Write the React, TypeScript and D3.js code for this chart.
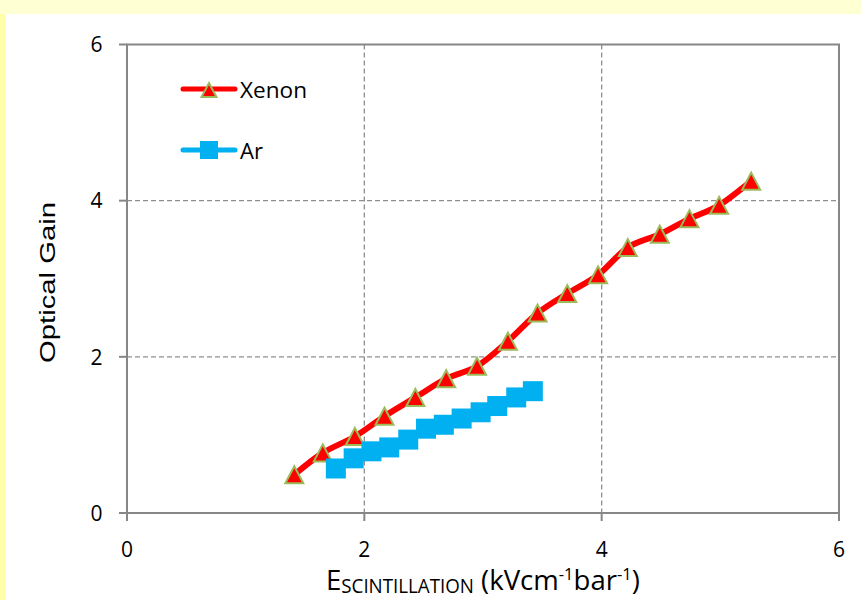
import React, { useLayoutEffect, useRef, useState } from "react";
import * as d3 from "d3";

const xTicks = [0, 2, 4, 6];
const yTicks = [0, 2, 4, 6];
const gridX = [2, 4];
const gridY = [2, 4];

const xenonX = [1.41, 1.65, 1.92, 2.17, 2.43, 2.69, 2.95, 3.21, 3.46, 3.71, 3.97, 4.22, 4.49, 4.74, 4.99, 5.26];
const xenonY = [0.49, 0.77, 0.98, 1.24, 1.48, 1.72, 1.88, 2.2, 2.56, 2.81, 3.05, 3.4, 3.57, 3.77, 3.94, 4.25];
const arX = [1.76, 1.91, 2.06, 2.21, 2.37, 2.52, 2.67, 2.82, 2.98, 3.12, 3.28, 3.42];
const arY = [0.57, 0.7, 0.79, 0.84, 0.94, 1.08, 1.13, 1.21, 1.29, 1.37, 1.48, 1.56];

const seriesNames = ["Xenon", "Ar"];

const W = 861;
const H = 600;
const left = 127;
const right = 839;
const top = 44.5;
const bottom = 513;

const RED = "#FF0000";
const GREEN = "#9BBB59";
const BLUE = "#00B0F0";
const AXIS = "#878787";
const GRID = "#8f8f8f";
const FONT = "'Open Sans', Lato, sans-serif";

function triPath(cx: number, cy: number, w: number, h: number) {
  return `M${cx},${cy - h / 2}L${cx + w / 2},${cy + h / 2}L${cx - w / 2},${cy + h / 2}Z`;
}

export default function App() {
  const x = d3.scaleLinear().domain([0, 6]).range([left, right]);
  const y = d3.scaleLinear().domain([0, 6]).range([bottom, top]);

  const xenon = xenonX.map((v, i) => [v, xenonY[i]] as [number, number]);
  const ar = arX.map((v, i) => [v, arY[i]] as [number, number]);

  const line = d3
    .line<[number, number]>()
    .x((d) => x(d[0]))
    .y((d) => y(d[1]))
    .curve(d3.curveCatmullRom.alpha(0));

  const legendY = [89, 150];

  const titleRef = useRef<SVGTextElement | null>(null);
  const [sx, setSx] = useState(1);
  useLayoutEffect(() => {
    if (titleRef.current) {
      const w = titleRef.current.getBBox().width;
      if (w > 0) setSx(314 / w);
    }
  }, []);

  return (
    <svg
      width={W}
      height={H}
      style={{ position: "absolute", left: 0, top: 0, display: "block" }}
    >
      <rect x={0} y={0} width={W} height={H} fill="#FFFFD4" />
      <rect x={0} y={14} width={6} height={H - 14} fill="#FFFFA8" />
      <rect x={6} y={14} width={W - 6} height={H - 14} fill="#FFFFFF" />

      {/* grid */}
      {gridX.map((t) => (
        <line key={"gx" + t} x1={x(t)} x2={x(t)} y1={top} y2={bottom} stroke={GRID} strokeWidth={1.3} strokeDasharray="5,3" />
      ))}
      {gridY.map((t) => (
        <line key={"gy" + t} x1={left} x2={right} y1={y(t)} y2={y(t)} stroke={GRID} strokeWidth={1.3} strokeDasharray="5,3" />
      ))}

      {/* plot box */}
      <rect x={left} y={top} width={right - left} height={bottom - top} fill="none" stroke={AXIS} strokeWidth={2} />

      {/* ticks */}
      {xTicks.map((t) => (
        <g key={"xt" + t}>
          <line x1={x(t)} x2={x(t)} y1={bottom} y2={bottom + 8} stroke={AXIS} strokeWidth={2} />
          <text x={x(t)} y={556.5} textAnchor="middle" fontFamily={FONT} fontSize={21} fill="#000">
            {t}
          </text>
        </g>
      ))}
      {yTicks.map((t) => (
        <g key={"yt" + t}>
          <line x1={left - 8} x2={left} y1={y(t)} y2={y(t)} stroke={AXIS} strokeWidth={2} />
          <text x={102.5} y={y(t) + 7.8} textAnchor="end" fontFamily={FONT} fontSize={21} fill="#000">
            {t}
          </text>
        </g>
      ))}

      {/* series */}
      <path d={line(xenon) || ""} fill="none" stroke={RED} strokeWidth={6} strokeLinejoin="round" strokeLinecap="round" />
      {xenon.map((d, i) => (
        <path key={"xm" + i} d={triPath(x(d[0]), y(d[1]), 18, 17)} fill={RED} stroke={GREEN} strokeWidth={2} />
      ))}
      <path d={line(ar) || ""} fill="none" stroke={BLUE} strokeWidth={5} strokeLinejoin="round" />
      {ar.map((d, i) => (
        <rect key={"am" + i} x={x(d[0]) - 10} y={y(d[1]) - 10} width={20} height={20} fill={BLUE} />
      ))}

      {/* legend */}
      <line x1={183} x2={235} y1={legendY[0]} y2={legendY[0]} stroke={RED} strokeWidth={5} strokeLinecap="round" />
      <path d={triPath(209, legendY[0] + 1, 15, 14)} fill={RED} stroke={GREEN} strokeWidth={2} />
      <text x={240} y={legendY[0] + 8.5} fontFamily={FONT} fontSize={22} textLength={67} lengthAdjust="spacingAndGlyphs" fill="#000">
        {seriesNames[0]}
      </text>
      <line x1={183} x2={235} y1={legendY[1]} y2={legendY[1]} stroke={BLUE} strokeWidth={5} strokeLinecap="round" />
      <rect x={200} y={legendY[1] - 9} width={18} height={18} fill={BLUE} />
      <text x={240} y={legendY[1] + 8.5} fontFamily={FONT} fontSize={22} textLength={23} lengthAdjust="spacingAndGlyphs" fill="#000">
        {seriesNames[1]}
      </text>

      {/* y title */}
      <text
        transform={`translate(55, 282.5) rotate(-90)`}
        textAnchor="middle"
        fontFamily="'Liberation Sans', Arial, sans-serif"
        fontSize={22}
        textLength={161}
        lengthAdjust="spacingAndGlyphs"
        fill="#000"
      >
        Optical Gain
      </text>

      {/* x title */}
      <g transform={`translate(326, 590) scale(${sx}, 1.12)`}>
        <text ref={titleRef} x={0} y={0} fontFamily={FONT} fill="#000" fontSize={25}>
          <tspan>E</tspan>
          <tspan fontSize={17} dy={3}>SCINTILLATION</tspan>
          <tspan dy={-3}> (kVcm</tspan>
          <tspan fontSize={15} dy={-9}>-1</tspan>
          <tspan dy={9}>bar</tspan>
          <tspan fontSize={15} dy={-9}>-1</tspan>
          <tspan dy={9}>)</tspan>
        </text>
      </g>
    </svg>
  );
}
